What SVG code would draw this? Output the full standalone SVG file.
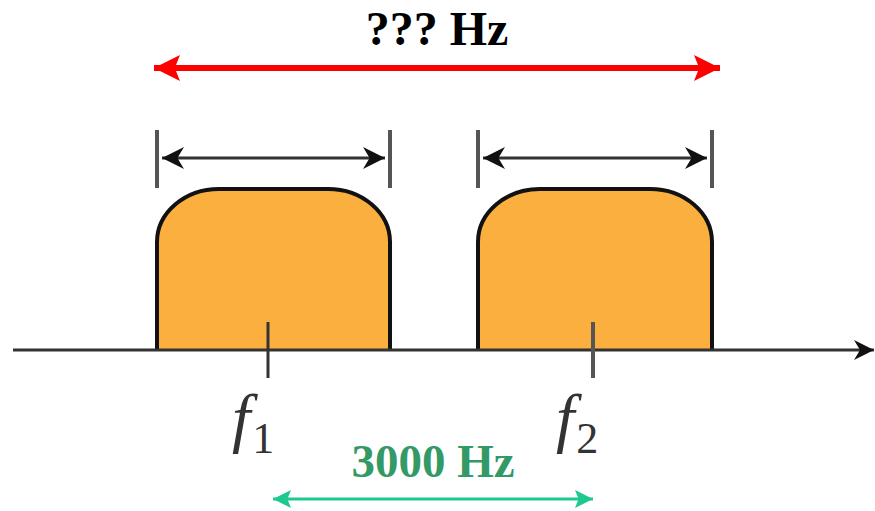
<svg xmlns="http://www.w3.org/2000/svg" width="875" height="511" viewBox="0 0 875 511">
<style>
.band{fill:#FBAF3F;stroke:#111;stroke-width:4}
.bar{stroke:#555;stroke-width:4}
.dim{stroke:#333;stroke-width:3}
.tick{stroke:#333;stroke-width:3}
.title{font-family:"Liberation Serif",serif;font-weight:bold}
</style>
<defs>
<marker id="ah" viewBox="0 0 10 10" refX="10" refY="5" markerWidth="22" markerHeight="22" markerUnits="userSpaceOnUse" orient="auto-start-reverse"><path d="M0,0 L10,5 L0,10 L3,5 Z" fill="#111"/></marker>
<marker id="axh" viewBox="0 0 10 10" refX="10" refY="5" markerWidth="20" markerHeight="20" markerUnits="userSpaceOnUse" orient="auto"><path d="M0,0 L10,5 L0,10 L3,5 Z" fill="#111"/></marker>
<marker id="red" viewBox="0 0 10 10" refX="10" refY="5" markerWidth="26" markerHeight="26" markerUnits="userSpaceOnUse" orient="auto-start-reverse"><path d="M0,0 L10,5 L0,10 L2,5 Z" fill="#ff0000"/></marker>
<marker id="grn" viewBox="0 0 10 10" refX="10" refY="5" markerWidth="18" markerHeight="18" markerUnits="userSpaceOnUse" orient="auto-start-reverse"><path d="M0,0 L10,5 L0,10 L2,5 Z" fill="#1DC98E"/></marker>
</defs>
<g id="band1">
<path class="band" d="M157,350 L157,242 A62,53 0 0 1 219,189 L328,189 A62,53 0 0 1 390,242 L390,350"/>
</g>
<g id="band2">
<path class="band" d="M478,350 L478,242 A62,53 0 0 1 540,189 L650,189 A62,53 0 0 1 712,242 L712,350"/>
</g>
<g id="connectors">
<line x1="13" y1="350" x2="874" y2="350" stroke="#333" stroke-width="3" marker-end="url(#axh)"/>
<line class="bar" x1="157" y1="130" x2="157" y2="188"/>
<line class="bar" x1="390" y1="130" x2="390" y2="188"/>
<line class="dim" x1="162" y1="158" x2="385" y2="158" marker-start="url(#ah)" marker-end="url(#ah)"/>
<line class="bar" x1="478" y1="130" x2="478" y2="188"/>
<line class="bar" x1="712" y1="130" x2="712" y2="188"/>
<line class="dim" x1="483" y1="158" x2="707" y2="158" marker-start="url(#ah)" marker-end="url(#ah)"/>
<line class="tick" x1="268" y1="322" x2="268" y2="378"/>
<line x1="593" y1="322" x2="593" y2="378" stroke="#555" stroke-width="4"/>
<line x1="154" y1="68" x2="720" y2="68" stroke="#ff0000" stroke-width="6" marker-start="url(#red)" marker-end="url(#red)"/>
<line x1="273" y1="499" x2="593" y2="499" stroke="#1DC98E" stroke-width="3" marker-start="url(#grn)" marker-end="url(#grn)"/>
</g>
<g id="labels">
<text class="title" x="437" y="45" font-size="48" text-anchor="middle" fill="#000">??? Hz</text>
<text class="title" x="433" y="477" font-size="47" text-anchor="middle" fill="#339966">3000 Hz</text>
<text x="232" y="440" font-family="'Liberation Serif', serif" font-style="italic" font-size="66" fill="#333">f<tspan font-style="normal" font-size="44" dx="2" dy="13">1</tspan></text>
<text x="556" y="440" font-family="'Liberation Serif', serif" font-style="italic" font-size="66" fill="#333">f<tspan font-style="normal" font-size="44" dx="2" dy="13">2</tspan></text>
</g>
</svg>
